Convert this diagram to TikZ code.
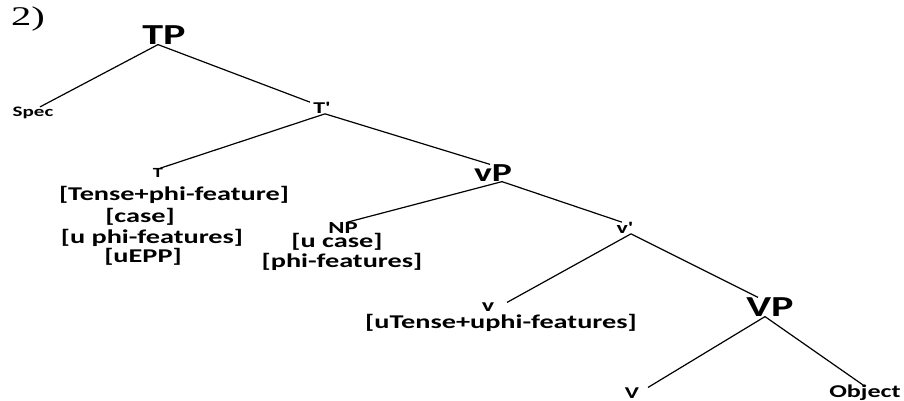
\documentclass[tikz,border=0pt]{standalone}
\usepackage{fontspec}
\newfontfamily\treefont{Carlito}[FakeStretch=1.45]
\newfontfamily\numfont{Liberation Serif}[FakeStretch=1.5]
\usetikzlibrary{positioning}
\begin{document}
\begin{tikzpicture}[x=1pt, y=-1pt,
    phrase/.style={font=\treefont\bfseries\fontsize{29}{31}\selectfont, inner sep=0pt},
    head/.style={font=\treefont\bfseries\fontsize{14.5}{16}\selectfont, inner sep=0pt},
    feature/.style={font=\treefont\bfseries\fontsize{19.5}{21}\selectfont, inner sep=0pt},
    branch/.style={line width=1.2pt}
]
\useasboundingbox (0,0) rectangle (904,401);
\node[font=\numfont\fontsize{27}{29}\selectfont, inner sep=0pt](num) at (28,19){2)};
\node[phrase](tp) at (164,35){TP};
\node[head](spec) at (33,113){Spec};
\node[head, font=\treefont\bfseries\fontsize{16.5}{18}\selectfont](tbar) at (322,108){T'};
\node[head, font=\treefont\bfseries\fontsize{14}{16}\selectfont](t) at (158,173){T};
\node[feature](tfeatA) at (174,195){[Tense+phi-feature]};
\node[feature](tfeatB) at (140,217){[case]};
\node[feature](tfeatC) at (152,238){[u phi-features]};
\node[feature](tfeatD) at (143,257){[uEPP]};
\node[phrase, font=\treefont\bfseries\fontsize{26}{28}\selectfont](vp) at (493,173){vP};
\node[feature, font=\treefont\bfseries\fontsize{17}{19}\selectfont](np) at (343,228){NP};
\node[feature](npfeatA) at (337,242){[u case]};
\node[feature](npfeatB) at (342,262){[phi-features]};
\node[head, font=\treefont\bfseries\fontsize{16.5}{18}\selectfont](vbar) at (625,228){v'};
\node[head, font=\treefont\bfseries\fontsize{18}{20}\selectfont](v) at (488,307){v};
\node[feature](vfeat) at (501,323){[uTense+uphi-features]};
\node[phrase](bigvp) at (770,307){VP};
\node[head, font=\treefont\bfseries\fontsize{16.5}{18}\selectfont](bigv) at (632,393){V};
\node[feature, font=\treefont\bfseries\fontsize{18}{20}\selectfont](obj) at (865,393){Object};
% branches
\draw[branch] ([xshift=-6pt]tp.south) -- ([xshift=7pt]spec.north);
\draw[branch] ([xshift=-6pt]tp.south) -- ([xshift=-12pt]tbar.north);
\draw[branch] ([xshift=3pt]tbar.south) -- ([xshift=2pt]t.north);
\draw[branch] ([xshift=3pt]tbar.south) -- ([xshift=-3pt]vp.north);
\draw[branch] ([xshift=9pt]vp.south) -- ([xshift=4pt]np.north);
\draw[branch] ([xshift=9pt]vp.south) -- ([xshift=-3pt]vbar.north);
\draw[branch] ([xshift=6pt]vbar.south) -- ([xshift=19pt]v.north);
\draw[branch] ([xshift=6pt]vbar.south) -- ([xshift=-12pt]bigvp.north);
\draw[branch] ([xshift=-5pt]bigvp.south) -- ([xshift=16pt]bigv.north);
\draw[branch] ([xshift=-5pt]bigvp.south) -- ([xshift=-2pt]obj.north);
\end{tikzpicture}
\end{document}
